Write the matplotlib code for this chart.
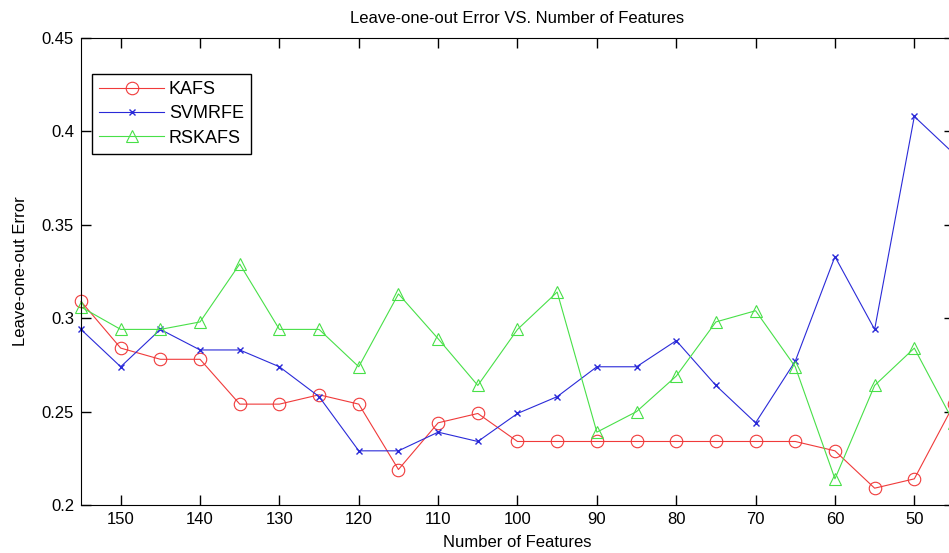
import matplotlib
matplotlib.use('Agg')
import matplotlib.pyplot as plt

plt.rcParams['font.family'] = ['Liberation Sans', 'DejaVu Sans']

# numero di feature (asse x invertito)
features = [155, 150, 145, 140, 135, 130, 125, 120, 115, 110, 105, 100,
            95, 90, 85, 80, 75, 70, 65, 60, 55, 50, 45]

kafs = [0.309, 0.284, 0.278, 0.278, 0.254, 0.254, 0.259, 0.254, 0.219, 0.244, 0.249, 0.234,
        0.234, 0.234, 0.234, 0.234, 0.234, 0.234, 0.234, 0.229, 0.209, 0.214, 0.254]
svmrfe = [0.294, 0.274, 0.294, 0.283, 0.283, 0.274, 0.258, 0.229, 0.229, 0.239, 0.234, 0.249,
          0.258, 0.274, 0.274, 0.288, 0.264, 0.244, 0.277, 0.333, 0.294, 0.408, 0.388]
rskafs = [0.306, 0.294, 0.294, 0.298, 0.329, 0.294, 0.294, 0.274, 0.313, 0.289, 0.264, 0.294,
          0.314, 0.239, 0.250, 0.269, 0.298, 0.304, 0.274, 0.214, 0.264, 0.284, 0.244]

fig = plt.figure(figsize=(9.49, 5.53), dpi=100)
# l'asse destro finisce appena fuori dall'immagine, come nell'originale
ax = fig.add_axes([81 / 949, 48 / 553, 873 / 949, 467 / 553])

ax.plot(features, kafs, color='#f03a3a', marker='o', markersize=9, markerfacecolor='none',
        linewidth=0.8, markeredgewidth=0.8, label='KAFS', clip_on=False)
ax.plot(features, svmrfe, color='#2a2ad8', marker='x', markersize=4.5,
        linewidth=0.8, markeredgewidth=1.0, label='SVMRFE', clip_on=False)
ax.plot(features, rskafs, color='#48e048', marker='^', markersize=9, markerfacecolor='none',
        linewidth=0.8, markeredgewidth=0.8, label='RSKAFS', clip_on=False)

ax.set_xlim(155, 45)
ax.set_ylim(0.2, 0.45)
ax.set_xticks([150, 140, 130, 120, 110, 100, 90, 80, 70, 60, 50])
ax.set_yticks([0.2, 0.25, 0.3, 0.35, 0.4, 0.45])
ax.set_yticklabels(['0.2', '0.25', '0.3', '0.35', '0.4', '0.45'])
ax.tick_params(direction='in', length=7, width=1, top=True, right=True, labelsize=12,
               pad=5)

ax.set_title('Leave-one-out Error VS. Number of Features', fontsize=12, pad=11)
ax.set_xlabel('Number of Features', fontsize=12, labelpad=6)
ax.set_ylabel('Leave-one-out Error', fontsize=12, labelpad=10)

leg = ax.legend(loc='upper left', bbox_to_anchor=(0.0126, 0.923), fontsize=13,
                fancybox=False, edgecolor='black', framealpha=1, handlelength=3.6,
                handletextpad=0.25, borderpad=0.4, labelspacing=0.4, borderaxespad=0)
leg.get_frame().set_linewidth(1)

plt.savefig('out.png', dpi=100)
